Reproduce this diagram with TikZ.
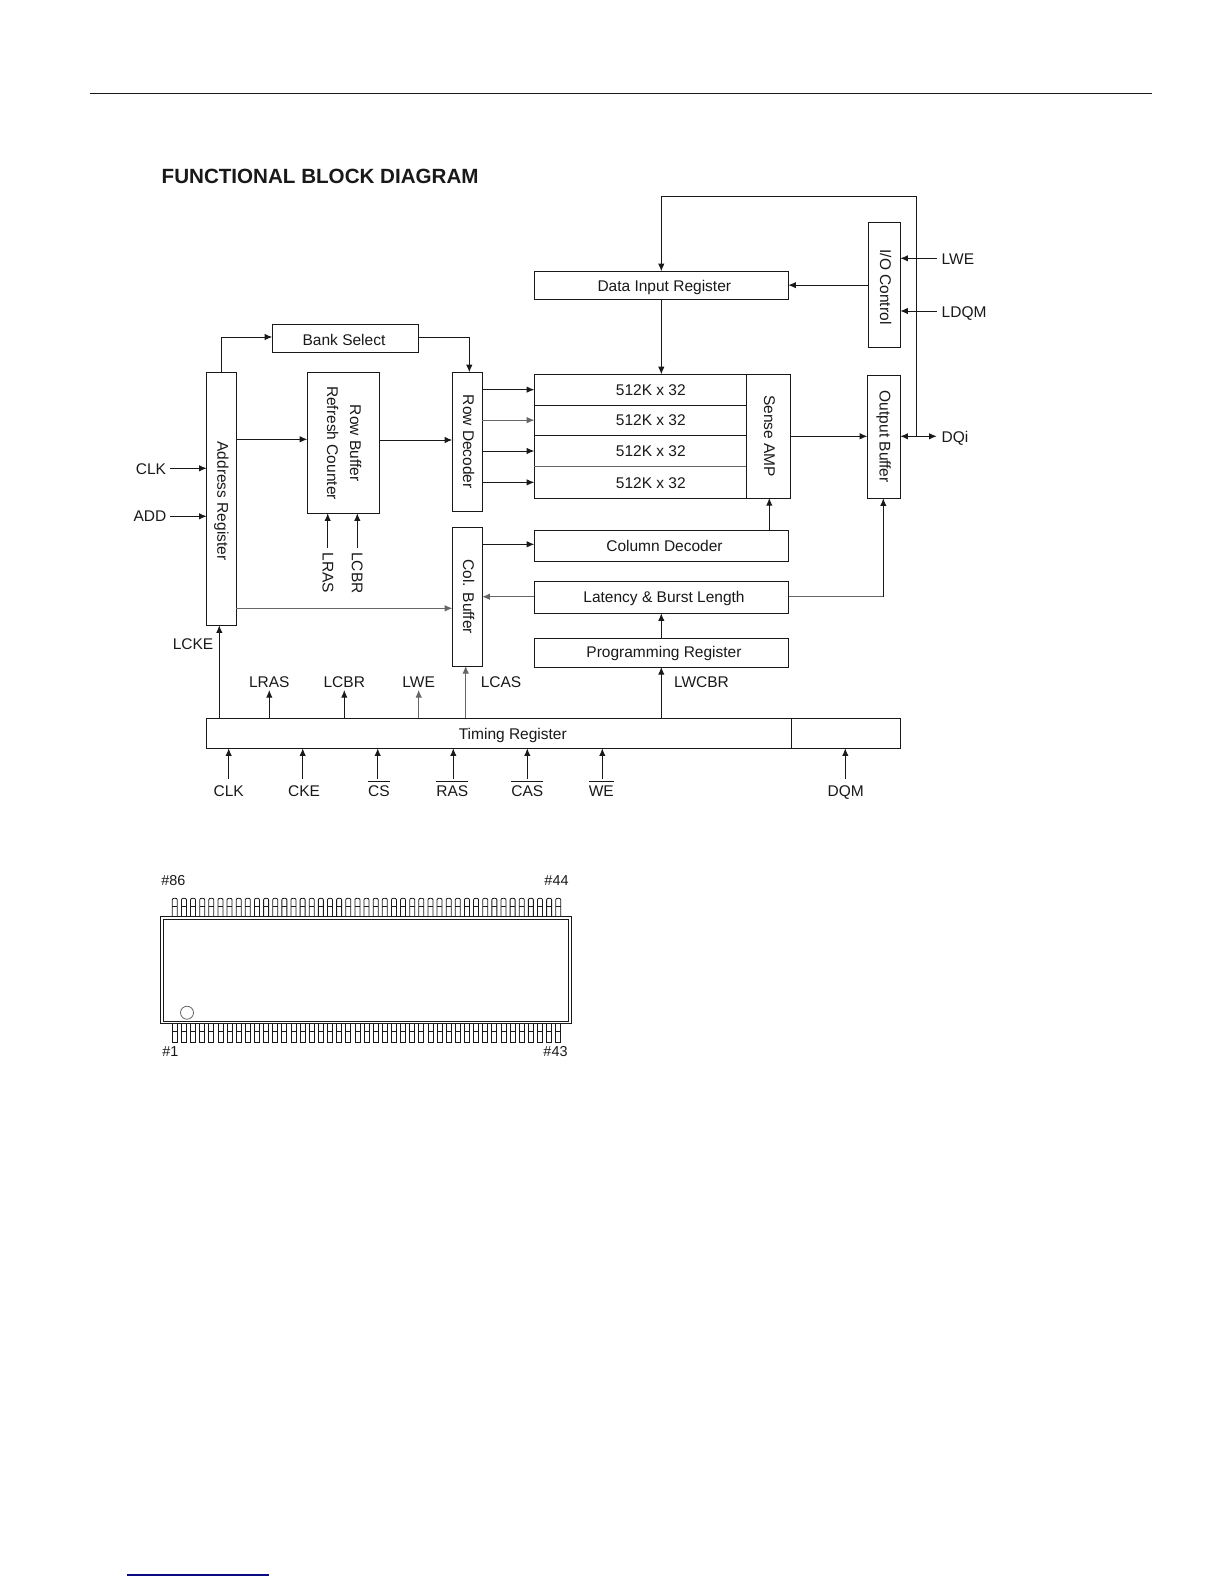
\documentclass[tikz,border=0pt]{standalone}
\usepackage{graphicx}
\usepackage{fontspec}
\setmainfont{Liberation Sans}
\usetikzlibrary{arrows.meta,calc}
\definecolor{ink}{gray}{0.1}
\definecolor{thinline}{gray}{0.4}
\definecolor{linknavy}{RGB}{10,10,130}
\newcommand\rot[1]{\rotatebox{-90}{\raisebox{0.7pt}[5.6pt][0pt]{#1}}}
\newcommand\ovl[1]{\vbox{\hrule height 0.5pt\kern 1.6pt\hbox{#1}}}
% \blk[opts]{name}{x1}{y1}{x2}{y2}{text}
\newcommand\blk[7][]{%
  \pgfmathsetmacro\blkw{(#5-#3)*0.5}%
  \pgfmathsetmacro\blkh{(#6-#4)*0.5}%
  \node[blockbox,minimum width=\blkw pt,minimum height=\blkh pt,#1] (#2) at ({(#3+#5)/2},{(#4+#6)/2}) {#7};}
\tikzset{
  every node/.style={inner sep=0pt,outer sep=0pt,text=ink,font=\fontsize{7.75}{11.5}\selectfont},
  blockbox/.style={draw=ink,line width=0.5pt,rectangle},
  hz/.style={text height=5.6pt,text depth=0pt},
  hzlow/.style={text height=6.6pt,text depth=0pt},
  lab/.style={hz},
  baselab/.style={anchor=base},
  conn/.style={draw=ink,line width=0.5pt,-{Latex[length=3.8pt,width=3.2pt]}},
  connthin/.style={draw=thinline,line width=0.4pt,-{Latex[length=3.8pt,width=3.2pt]}},
  pinline/.style={draw=ink,line width=0.4pt},
  pinlab/.style={hz,font=\fontsize{7.2}{8}\selectfont},
}
\begin{document}
\begin{tikzpicture}[x=0.5pt,y=-0.5pt]
\useasboundingbox (0,0) rectangle (1224,1584);
\fill[white] (0,0) rectangle (1224,1584);
% page rules
\coordinate (ruleL) at (89.5,93.5);
\coordinate (ruleR) at (1152,93.5);
\draw[ink,line width=0.75pt] (ruleL) -- (ruleR);
\coordinate (footL) at (127,1575);
\coordinate (footR) at (269,1575);
\draw[linknavy,line width=0.6pt] (footL) -- (footR);
% title
\node[anchor=base west,font=\fontsize{10.3}{12}\selectfont\bfseries] (title) at (161.7,184) {FUNCTIONAL BLOCK DIAGRAM};
% blocks
\blk[text height=7pt,text depth=0pt]{bank}{272.3}{324.3}{418.7}{352.3}{\hspace*{-1.5pt}Bank Select}
\blk{addr}{206.7}{372.3}{236.3}{625.3}{\rot{\hspace*{2.2pt}Address Register}}
\blk{rowbuf}{307.3}{372.7}{379.3}{513.3}{\rotatebox{-90}{\begin{tabular}{@{}c@{}}Row Buffer\\Refresh Counter\end{tabular}}}
\blk{rowdec}{452.3}{372.3}{482.3}{511.3}{\rot{Row Decoder}}
\blk{colbuf}{452.3}{527.3}{482.3}{666}{\rot{Col. Buffer}}
\blk[hzlow]{datain}{534.3}{271.3}{788.3}{299}{\hspace*{3pt}Data Input Register}
\blk{ioctl}{868.3}{222.3}{900.3}{347.3}{\rot{\hspace*{2.2pt}I/O Control}}
\blk{outbuf}{867.3}{375.3}{900.3}{498.3}{\rot{Output Buffer}}
\blk[hz,draw=none]{mA}{534.3}{374.3}{746.3}{405}{\hspace*{10.5pt}512K x 32}
\blk[hz,draw=none]{mB}{534.3}{405}{746.3}{435.3}{\hspace*{10.5pt}512K x 32}
\blk[hz,draw=none]{mC}{534.3}{435.3}{746.3}{466.7}{\hspace*{10.5pt}512K x 32}
\blk[hzlow,draw=none]{mD}{534.3}{466.7}{746.3}{498}{\hspace*{10.5pt}512K x 32}
\draw[ink,line width=0.5pt] (mA.north west) rectangle (mD.south east);
\draw[ink,line width=0.5pt] (mA.south west) -- (mA.south east);
\draw[ink,line width=0.5pt] (mB.south west) -- (mB.south east);
\draw[thinline,line width=0.4pt] (mC.south west) -- (mC.south east);
\blk{sense}{746.3}{374.3}{790.3}{498}{\rot{Sense AMP}}
\blk[hz]{coldec}{534.3}{530.3}{788.7}{561}{\hspace*{3pt}Column Decoder}
\blk[hz]{latency}{534.3}{581.3}{788.7}{613.3}{\hspace*{2.5pt}Latency \& Burst Length}
\blk[text height=5pt,text depth=0pt]{prog}{534.3}{638.3}{788.7}{667}{\hspace*{2.5pt}Programming Register}
\blk[hzlow]{timing}{206.3}{718.3}{791.3}{748.3}{\hspace*{14pt}Timing Register}
\blk{dqmbox}{791.3}{718.3}{900.3}{748.3}{}
% side labels
\node[hzlow] (lblclk) at (151,468.3) {CLK};
\node[lab] (lbladd) at (150,516.3) {ADD};
\node[hzlow,anchor=west] (lbllwe) at (941.7,258.3) {LWE};
\node[hzlow,anchor=west] (lblldqm) at (941.7,311) {LDQM};
\node[hzlow,anchor=west] (lbldqi) at (941.7,436.3) {DQi};
\node (lblrlras) at (326.7,573) {\rot{LRAS}};
\node (lblrlcbr) at (356,573) {\rot{LCBR}};
\node[lab] (lbllcke) at (193,644) {LCKE};
\node[lab] (lbllras) at (269.3,681.7) {LRAS};
\node[lab] (lbllcbr) at (344.3,681.7) {LCBR};
\node[lab] (lbllwet) at (418.7,681.7) {LWE};
\node[lab] (lbllcas) at (501,681.7) {LCAS};
\node[lab] (lbllwcbr) at (701.5,681.7) {LWCBR};
\node[baselab] (bclk) at (228.7,796) {CLK};
\node[baselab] (bcke) at (304,796) {CKE};
\node[baselab] (bcs) at (379,796) {\ovl{CS}};
\node[baselab] (bras) at (452.3,796) {\ovl{RAS}};
\node[baselab] (bcas) at (527.3,796) {\ovl{CAS}};
\node[baselab] (bwe) at (601.3,796) {\ovl{WE}};
\node[baselab] (bdqm) at (845.7,796) {DQM};
% connectors, left part
\draw[conn] ([xshift=2pt]lblclk.east) -- (addr.west |- lblclk.east);
\draw[conn] ([xshift=2pt]lbladd.east) -- (addr.west |- lbladd.east);
\coordinate (bankin) at (221.7,337);
\draw[conn] (addr.north -| bankin) -- (bankin) -- (bank.west |- bankin);
\draw[conn] (bank.east |- bankin) -| (469.3,372.3);
\draw[conn] (addr.east |- 0,439.3) -- (rowbuf.west |- 0,439.3);
\draw[conn] (rowbuf.east |- 0,440) -- (rowdec.west |- 0,440);
\draw[connthin] (addr.east |- 0,608.3) -- (colbuf.west |- 0,608.3);
\coordinate (lrasup) at (327.7,548.3);
\coordinate (lcbrup) at (357.3,548.3);
\draw[conn] (lrasup) -- (rowbuf.south -| lrasup);
\draw[conn] (lcbrup) -- (rowbuf.south -| lcbrup);
% row decoder to array
\draw[conn] (rowdec.east |- mA.west) -- (mA.west);
\draw[connthin] (rowdec.east |- mB.west) -- (mB.west);
\draw[conn] (rowdec.east |- mC.west) -- (mC.west);
\draw[conn] (rowdec.east |- mD.west) -- (mD.west);
% centre and right
\coordinate (busx) at (661.3,196);
\coordinate (dqjoin) at (916.7,436.3);
\draw[conn] (dqjoin) -- (dqjoin |- busx) -- (busx) -- (datain.north -| busx);
\draw[conn] (datain.south -| busx) -- (mA.north -| busx);
\draw[conn] (ioctl.west |- datain.east) -- (datain.east);
\draw[conn] ([xshift=-2.5pt]lbllwe.west) -- (ioctl.east |- lbllwe.west);
\draw[conn] ([xshift=-2.5pt]lblldqm.west) -- (ioctl.east |- lblldqm.west);
\draw[conn] (sense.east |- dqjoin) -- (outbuf.west |- dqjoin);
\draw[conn,{Latex[length=3.8pt,width=3.2pt]}-{Latex[length=3.8pt,width=3.2pt]}] (outbuf.east |- dqjoin) -- ([xshift=-2.5pt]lbldqi.west);
\coordinate (senseup) at (769.3,530.3);
\draw[conn] (senseup) -- (sense.south -| senseup);
\draw[conn] (colbuf.east |- 0,544.3) -- (coldec.west |- 0,544.3);
\draw[connthin] (latency.west |- 0,596.7) -- (colbuf.east |- 0,596.7);
\coordinate (obup) at (883.3,596.7);
\draw[draw=thinline,line width=0.4pt] (latency.east |- obup) -- (obup);
\draw[conn] (obup) -- (outbuf.south -| obup);
\draw[conn] (prog.north -| busx) -- (latency.south -| busx);
\draw[conn] (timing.north -| busx) -- (prog.south -| busx);
% timing register outputs
\coordinate (xlcke) at (219.3,718.3);
\coordinate (xlras) at (269.3,690);
\coordinate (xlcbr) at (344.3,690);
\coordinate (xlwe) at (418.7,690);
\coordinate (xlcas) at (465.7,718.3);
\draw[conn] (xlcke) -- (addr.south -| xlcke);
\draw[conn] (timing.north -| xlras) -- (xlras);
\draw[conn] (timing.north -| xlcbr) -- (xlcbr);
\draw[connthin] (timing.north -| xlwe) -- (xlwe);
\draw[connthin] (xlcas) -- (colbuf.south -| xlcas);
% timing register inputs
\foreach \nm/\ax in {aclk/228.7,acke/302.7,acs/377.7,aras/453.3,acas/527.3,awe/602.3}{
  \coordinate (\nm) at (\ax,779);
  \draw[conn] (\nm) -- (timing.south -| \nm);
}
\coordinate (adqm) at (845.3,779);
\draw[conn] (adqm) -- (dqmbox.south -| adqm);
% package drawing
\draw[ink,line width=0.5pt] (160,916) rectangle (571,1023.7);
\draw[ink,line width=0.45pt] (163.5,919) rectangle (568.3,1021.4);
\foreach \i in {0,...,42}{
  \pgfmathsetmacro\px{172.3+9.13*\i}
  \draw[pinline] (\px,916) -- (\px,899.7) .. controls (\px,897.7) and ({\px+5},897.7) .. ({\px+5},899.7) -- ({\px+5},916);
  \draw[ink,line width=0.7pt] (\px,906.7) -- ({\px+5},906.7);
  \draw[pinline] (\px,1023.7) -- (\px,1042) -- ({\px+5},1042) -- ({\px+5},1023.7);
  \draw[ink,line width=0.7pt] (\px,1031.7) -- ({\px+5},1031.7);
}
\draw[thinline,line width=0.4pt] (187,1012.7) circle (6.5);
\node[pinlab] (pinA) at (173.3,880) {\#86};
\node[pinlab] (pinB) at (556.5,880) {\#44};
\node[pinlab] (pinC) at (170.3,1050.7) {\#1};
\node[pinlab] (pinD) at (555.5,1051) {\#43};
\end{tikzpicture}
\end{document}
